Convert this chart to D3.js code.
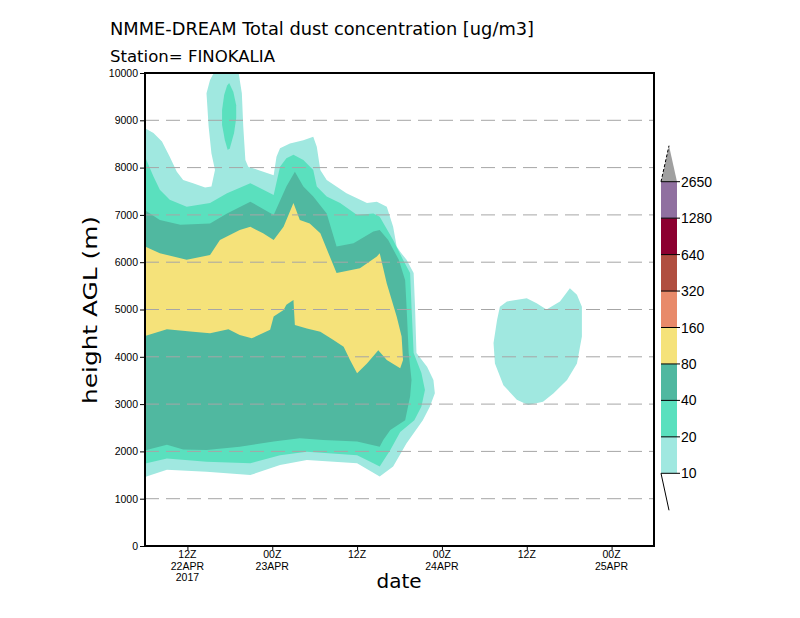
<!DOCTYPE html>
<html>
<head>
<meta charset="utf-8">
<script src="https://cdnjs.cloudflare.com/ajax/libs/d3/7.8.5/d3.min.js"></script>
<style>
  body { margin: 0; background: #fff; }
  svg { display: block; }
</style>
</head>
<body>
<script>
// time axis in hours since 00Z 22APR 2017, height in m AGL
var levels = [10, 20, 40, 80, 160, 320, 640, 1280, 2650];
var levelColors = ['#a0e8e0', '#5ae0be', '#50b8a0', '#f5e27a', '#e88a6a', '#b04e40', '#8c0030', '#9070a0'];
var overColor = '#a0a0a0';

var yTicks = [0, 1000, 2000, 3000, 4000, 5000, 6000, 7000, 8000, 9000, 10000];
var xTickHours = [12, 24, 36, 48, 60, 72];
var xTickLabels = [['12Z', '22APR', '2017'], ['00Z', '23APR'], ['12Z'], ['00Z', '24APR'], ['12Z'], ['00Z', '25APR']];

// outer 10 ug/m3 contour
var contour10 = [
  [6.0, 8830], [7.2, 8730], [8.4, 8550], [9.5, 8230], [10.5, 7910], [11.4, 7740], [12.8, 7670],
  [14.5, 7580], [15.4, 7600], [15.9, 7950], [15.4, 8300], [15.0, 8870], [14.7, 9570], [15.2, 9850],
  [15.9, 10050], [19.2, 10050], [19.4, 9850], [19.7, 9570], [19.9, 8870], [20.2, 8160], [20.6, 8020],
  [22.0, 7950], [24.2, 7840], [24.6, 8230], [25.1, 8410], [26.5, 8510], [28.4, 8580], [29.8, 8650],
  [30.3, 8440], [30.8, 7950], [31.7, 7740], [34.5, 7460], [37.4, 7250], [38.8, 7280], [40.2, 7170],
  [41.1, 6750], [41.6, 6330], [42.1, 6220], [43.0, 6050], [44.0, 5770], [44.2, 5050], [44.4, 4080],
  [45.9, 3790], [46.8, 3510], [47.0, 3230], [46.3, 2950], [45.3, 2660], [43.0, 2170], [41.1, 1680],
  [39.2, 1470], [36.0, 1750], [28.9, 1820], [25.1, 1710], [20.9, 1500], [14.7, 1570], [9.1, 1610],
  [6.2, 1470], [6.0, 1440]
];

var blob10 = [
  [57.2, 5170], [60.0, 5240], [61.4, 5130], [62.8, 5000], [64.7, 5170], [66.1, 5450], [67.1, 5310],
  [67.8, 5060], [67.8, 4430], [67.1, 3860], [65.7, 3510], [63.8, 3230], [62.3, 3050], [60.2, 2980],
  [58.6, 3090], [56.7, 3400], [55.5, 3860], [55.3, 4290], [55.8, 4780], [56.2, 5060]
];

var contour20 = [
  [6.0, 8230], [7.2, 7810], [8.1, 7530], [9.5, 7320], [11.9, 7170], [15.2, 7250], [17.6, 7460],
  [20.9, 7670], [24.2, 7420], [25.1, 8020], [26.0, 8200], [27.0, 8270], [28.4, 8160], [29.8, 7950],
  [30.3, 7600], [31.7, 7390], [33.6, 7250], [36.0, 7000], [38.3, 7030], [39.2, 6960], [41.1, 6470],
  [42.5, 6050], [43.5, 5770], [43.7, 5060], [44.0, 4080], [45.1, 3660], [45.6, 3300], [45.1, 2950],
  [44.1, 2660], [42.1, 2410], [40.7, 2030], [39.2, 1680], [38.3, 1750], [36.0, 1920], [28.9, 1990],
  [25.1, 1920], [20.9, 1750], [14.7, 1780], [9.1, 1850], [6.2, 1750], [6.0, 1750]
];

var island20 = [
  [17.9, 9790], [18.5, 9600], [18.9, 9320], [18.9, 9050], [18.6, 8730], [18.0, 8410], [17.7, 8370],
  [17.3, 8580], [16.9, 8900], [16.9, 9220], [17.2, 9540], [17.6, 9730]
];

var contour40 = [
  [6.0, 7100], [8.1, 6890], [11.0, 6790], [15.2, 6820], [17.6, 7030], [20.9, 7280], [24.2, 7000],
  [26.0, 7600], [27.2, 7910], [28.4, 7600], [29.8, 7390], [31.7, 7030], [33.1, 6330], [35.5, 6400],
  [38.3, 6650], [39.2, 6680], [40.4, 6470], [41.9, 6050], [42.8, 5620], [43.0, 5060], [43.3, 4080],
  [43.7, 3510], [43.5, 3160], [42.8, 2660], [40.7, 2450], [39.7, 2240], [39.2, 2100], [36.0, 2210],
  [31.2, 2240], [27.9, 2280], [24.2, 2210], [19.4, 2100], [14.7, 2030], [11.4, 2040], [9.1, 2140],
  [6.2, 2030], [6.0, 2030]
];

var contour80 = [
  [6.0, 6330], [8.1, 6190], [11.9, 6050], [15.2, 6150], [16.6, 6470], [19.4, 6680], [20.9, 6750],
  [22.7, 6610], [24.2, 6470], [25.6, 6750], [27.0, 7250], [27.9, 6890], [29.3, 6820], [30.8, 6610],
  [33.1, 5770], [36.4, 5870], [38.8, 6120], [39.2, 6190], [40.2, 5550], [41.6, 4850], [42.3, 4430],
  [42.5, 3930], [42.1, 3760], [40.2, 3930], [39.0, 4140], [37.4, 3860], [36.0, 3650], [35.0, 3930],
  [34.1, 4210], [32.6, 4360], [30.8, 4530], [28.9, 4600], [27.2, 4670], [27.0, 5200], [26.0, 5100],
  [25.6, 4990], [24.2, 4850], [23.7, 4570], [21.1, 4390], [19.4, 4460], [17.8, 4580], [15.2, 4500],
  [12.8, 4530], [9.1, 4580], [6.0, 4440]
];

var width = 800, height = 618;
var plot = {left: 145, right: 654, top: 73, bottom: 546};

var x = d3.scaleLinear().domain([6, 78]).range([plot.left, plot.right]);
var y = d3.scaleLinear().domain([0, 10000]).range([plot.bottom, plot.top]);

var svg = d3.select('body').append('svg')
  .attr('width', width)
  .attr('height', height);

svg.append('defs').append('clipPath')
  .attr('id', 'plot-clip')
  .append('rect')
  .attr('x', plot.left)
  .attr('y', plot.top)
  .attr('width', plot.right - plot.left)
  .attr('height', plot.bottom - plot.top);

var shapeLine = d3.line()
  .x(function(d) { return x(d[0]); })
  .y(function(d) { return y(d[1]); })
  .curve(d3.curveLinearClosed);

var fills = svg.append('g').attr('clip-path', 'url(#plot-clip)');

var shapes = [
  {pts: contour10, c: levelColors[0]},
  {pts: blob10, c: levelColors[0]},
  {pts: contour20, c: levelColors[1]},
  {pts: island20, c: levelColors[1]},
  {pts: contour40, c: levelColors[2]},
  {pts: contour80, c: levelColors[3]}
];

fills.selectAll('path')
  .data(shapes)
  .enter()
  .append('path')
  .attr('d', function(d) { return shapeLine(d.pts); })
  .attr('fill', function(d) { return d.c; })
  .attr('stroke', 'none');

// dashed grid lines
svg.append('g')
  .selectAll('line')
  .data(yTicks.filter(function(t) { return t > 0 && t < 10000; }))
  .enter()
  .append('line')
  .attr('x1', plot.left)
  .attr('x2', plot.right)
  .attr('y1', function(d) { return y(d); })
  .attr('y2', function(d) { return y(d); })
  .attr('stroke', '#a6a6a6')
  .attr('stroke-width', 1)
  .attr('stroke-dasharray', '14,7');

// y axis
var yAxis = d3.axisLeft(y).tickValues(yTicks).tickSize(5).tickPadding(2).tickFormat(d3.format('d'));
svg.append('g')
  .attr('transform', 'translate(' + plot.left + ',0)')
  .call(yAxis)
  .call(function(g) {
    g.select('.domain').remove();
    g.selectAll('.tick line').attr('stroke', '#000');
    g.selectAll('.tick text')
      .attr('font-family', 'Liberation Sans, Arial, sans-serif')
      .attr('font-size', '10.5px')
      .attr('fill', '#000');
  });

// x axis
var xAxis = d3.axisBottom(x).tickValues(xTickHours).tickSize(4).tickFormat('');
svg.append('g')
  .attr('transform', 'translate(0,' + plot.bottom + ')')
  .call(xAxis)
  .call(function(g) {
    g.select('.domain').remove();
    g.selectAll('.tick line').attr('stroke', '#000');
  });

var xLabels = svg.append('g')
  .selectAll('text')
  .data(xTickHours)
  .enter()
  .append('text')
  .attr('x', function(d) { return x(d); })
  .attr('y', 558)
  .attr('text-anchor', 'middle')
  .attr('font-family', 'Liberation Sans, Arial, sans-serif')
  .attr('font-size', '10.5px');

xLabels.selectAll('tspan')
  .data(function(d, i) { return xTickLabels[i]; })
  .enter()
  .append('tspan')
  .attr('x', function() { return x(d3.select(this.parentNode).datum()); })
  .attr('dy', function(d, i) { return i === 0 ? 0 : 11.5; })
  .text(function(d) { return d; });

// frame
svg.append('rect')
  .attr('x', plot.left)
  .attr('y', plot.top)
  .attr('width', plot.right - plot.left)
  .attr('height', plot.bottom - plot.top)
  .attr('fill', 'none')
  .attr('stroke', '#000')
  .attr('stroke-width', 2);

// titles
svg.append('text')
  .attr('x', 110)
  .attr('y', 35)
  .attr('font-family', 'DejaVu Sans, sans-serif')
  .attr('font-size', '17px')
  .attr('textLength', 424)
  .attr('lengthAdjust', 'spacingAndGlyphs')
  .text('NMME-DREAM Total dust concentration [ug/m3]');

svg.append('text')
  .attr('x', 110)
  .attr('y', 62)
  .attr('font-family', 'DejaVu Sans, sans-serif')
  .attr('font-size', '16px')
  .attr('textLength', 165)
  .attr('lengthAdjust', 'spacingAndGlyphs')
  .text('Station= FINOKALIA');

svg.append('text')
  .attr('transform', 'translate(97,310) rotate(-90)')
  .attr('text-anchor', 'middle')
  .attr('font-family', 'DejaVu Sans, sans-serif')
  .attr('font-size', '20px')
  .attr('textLength', 188)
  .attr('lengthAdjust', 'spacingAndGlyphs')
  .text('height AGL (m)');

svg.append('text')
  .attr('x', 399)
  .attr('y', 588)
  .attr('text-anchor', 'middle')
  .attr('font-family', 'DejaVu Sans, sans-serif')
  .attr('font-size', '20px')
  .text('date');

// colour bar
var cb = {left: 661, right: 677};
var cbY = d3.scaleLinear().domain([0, levels.length - 1]).range([473.3, 181.7]);
var legend = svg.append('g').attr('id', 'legend');

legend.selectAll('rect')
  .data(levelColors)
  .enter()
  .append('rect')
  .attr('x', cb.left)
  .attr('y', function(d, i) { return cbY(i + 1); })
  .attr('width', cb.right - cb.left)
  .attr('height', function(d, i) { return cbY(i) - cbY(i + 1); })
  .attr('fill', function(d) { return d; });

var apexY = cbY(levels.length - 1) - 36;
legend.append('path')
  .attr('d', 'M' + cb.left + ',' + cbY(levels.length - 1) + 'L' + (cb.left + cb.right) / 2 + ',' + apexY +
    'L' + cb.right + ',' + cbY(levels.length - 1) + 'Z')
  .attr('fill', overColor);

legend.append('line')
  .attr('x1', cb.left).attr('y1', cbY(levels.length - 1))
  .attr('x2', (cb.left + cb.right) / 2).attr('y2', apexY)
  .attr('stroke', '#000')
  .attr('stroke-width', 1)
  .attr('stroke-dasharray', '3,2');

legend.append('line')
  .attr('x1', cb.left).attr('y1', cbY(0))
  .attr('x2', (cb.left + cb.right) / 2).attr('y2', cbY(0) + 37)
  .attr('stroke', '#000')
  .attr('stroke-width', 1);

legend.selectAll('line.sep')
  .data(levels)
  .enter()
  .append('line')
  .attr('class', 'sep')
  .attr('x1', cb.left)
  .attr('x2', cb.right + 3)
  .attr('y1', function(d, i) { return cbY(i); })
  .attr('y2', function(d, i) { return cbY(i); })
  .attr('stroke', '#000')
  .attr('stroke-width', 1);

legend.selectAll('text')
  .data(levels)
  .enter()
  .append('text')
  .attr('x', 681)
  .attr('y', function(d, i) { return cbY(i) + 5; })
  .attr('font-family', 'Liberation Sans, Arial, sans-serif')
  .attr('font-size', '14px')
  .text(function(d) { return d; });
</script>
</body>
</html>
